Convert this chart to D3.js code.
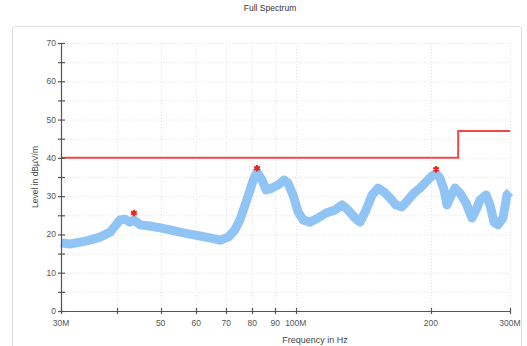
<!DOCTYPE html>
<html>
<head>
<meta charset="utf-8">
<script src="https://cdn.jsdelivr.net/npm/d3@7"></script>
<style>
  body { margin: 0; background: #fff; }
  text { font-family: "Liberation Sans", Arial, sans-serif; }
</style>
</head>
<body>
<script>
// spectrum trace, frequency in MHz and level in dBuV/m
const freqs = [30, 31.4, 33.1, 34.8, 36.6, 38.6, 39.6, 40.6, 41.6, 42.7, 43.6, 45.0, 47.3, 49.9, 52.5, 55.2, 58.1, 61.2, 64.4, 67.8,
  70.7, 73.2, 75.1, 77.1, 79.1, 80.7, 82.0, 84.1, 85.9, 88.5, 91.3, 94.2, 96.1, 98.6, 101.2, 103.8, 107.5, 112.1, 116.8, 122.3,
  126.8, 130.7, 135.5, 139.0, 143.4, 147.9, 152.5, 157.3, 162.2, 167.2, 172.4, 177.8, 183.4, 189.1, 195.0, 201.1, 205.3, 209.5,
  213.9, 217.2, 220.6, 226.3, 232.2, 239.4, 246.9, 252.1, 257.3, 265.3, 270.8, 276.4, 282.1, 289.4, 295.4, 300];
const levels = [17.8, 17.5, 18.0, 18.5, 19.3, 20.6, 22.2, 23.8, 24.0, 23.2, 23.8, 22.5, 22.2, 21.7, 21.2, 20.6, 20.1, 19.6, 19.1, 18.5,
  19.3, 21.2, 23.8, 27.7, 31.6, 34.7, 36.3, 34.2, 31.6, 32.1, 32.9, 34.2, 33.4, 30.3, 25.9, 23.8, 23.2, 24.3, 25.6, 26.4,
  27.7, 26.4, 24.3, 23.2, 26.4, 30.3, 32.1, 31.1, 29.5, 27.7, 27.2, 29.0, 30.8, 32.1, 33.7, 35.3, 35.8, 34.7,
  31.6, 27.7, 29.5, 32.1, 30.8, 28.2, 24.3, 26.4, 29.0, 30.3, 27.7, 23.2, 22.5, 24.3, 30.3, 31.1];

// limit line (step)
const limitFreqs = [30, 230, 230, 300];
const limitLevels = [40, 40, 47, 47];

// peak markers
const peakFreqs = [43.6, 82.0, 205.3];
const peakLevels = [25.6, 37.3, 37.0];

const xTicks = [30, 40, 50, 60, 70, 80, 90, 100, 200, 300];
const xTickLabels = ["30M", "", "50", "60", "70", "80", "90", "100M", "200", "300M"];
const yTicks = [0, 10, 20, 30, 40, 50, 60, 70];
const yMinorTicks = [5, 15, 25, 35, 45, 55, 65];

const W = 527, H = 346;
const mLeft = 61, mRight = 510, mTop = 43, mBottom = 311;

const svg = d3.select("body").append("svg")
  .attr("width", W)
  .attr("height", H);

// outer frame
svg.append("rect")
  .attr("x", 12.5).attr("y", 26.5)
  .attr("width", 509).attr("height", 340)
  .attr("rx", 3)
  .attr("fill", "none")
  .attr("stroke", "#dcdcdc")
  .attr("stroke-width", 1);

svg.append("text")
  .attr("x", 270).attr("y", 11)
  .attr("text-anchor", "middle")
  .attr("font-size", "8.5px")
  .attr("fill", "#333")
  .text("Full Spectrum");

const x = d3.scaleLog().domain([30, 300]).range([mLeft, mRight]);
const y = d3.scaleLinear().domain([0, 70]).range([mBottom, mTop]);

// grid
const grid = svg.append("g").attr("stroke", "#e2e2e2").attr("stroke-dasharray", "1,2");
grid.selectAll("line.h")
  .data(yTicks.concat(yMinorTicks).filter(d => d > 0))
  .enter().append("line")
  .attr("x1", mLeft).attr("x2", mRight)
  .attr("y1", d => y(d) + 0.5).attr("y2", d => y(d) + 0.5);
grid.selectAll("line.v")
  .data(xTicks.slice(1))
  .enter().append("line")
  .attr("x1", d => Math.round(x(d)) + 0.5).attr("x2", d => Math.round(x(d)) + 0.5)
  .attr("y1", mTop).attr("y2", mBottom);

// limit
const limitData = limitFreqs.map((f, i) => [f, limitLevels[i]]);
svg.append("path")
  .datum(limitData)
  .attr("fill", "none")
  .attr("stroke", "#f04848")
  .attr("stroke-width", 2)
  .attr("d", d3.line().x(d => x(d[0])).y(d => y(d[1])));

// trace
const traceData = freqs.map((f, i) => [f, levels[i]]);
svg.append("path")
  .datum(traceData)
  .attr("fill", "none")
  .attr("stroke", "#90c4f4")
  .attr("stroke-width", 9)
  .attr("stroke-linejoin", "round")
  .attr("stroke-linecap", "butt")
  .attr("d", d3.line().x(d => x(d[0])).y(d => y(d[1])));

// peak markers
const star = d3.symbol().type(d3.symbolAsterisk).size(30);
svg.selectAll("path.peak")
  .data(peakFreqs)
  .enter().append("path")
  .attr("class", "peak")
  .attr("transform", (d, i) => "translate(" + x(d) + "," + y(peakLevels[i]) + ")")
  .attr("d", star)
  .attr("fill", "none")
  .attr("stroke", "#ee2222")
  .attr("stroke-width", 2);

// axes
const yAxis = svg.append("g")
  .attr("transform", "translate(" + mLeft + ",0)");
yAxis.append("line")
  .attr("x1", 0.5).attr("x2", 0.5).attr("y1", mTop).attr("y2", mBottom)
  .attr("stroke", "#555").attr("stroke-width", 1.2);
yAxis.selectAll("line.tk")
  .data(yTicks.concat(yMinorTicks))
  .enter().append("line")
  .attr("x1", -3).attr("x2", 4)
  .attr("y1", d => y(d) + 0.5).attr("y2", d => y(d) + 0.5)
  .attr("stroke", "#555").attr("stroke-width", 1.2);
yAxis.selectAll("text")
  .data(yTicks)
  .enter().append("text")
  .attr("x", -5).attr("y", d => y(d) + 3)
  .attr("text-anchor", "end")
  .attr("font-size", "8.5px")
  .attr("fill", "#555")
  .text(d => d);

const xAxis = svg.append("g")
  .attr("transform", "translate(0," + mBottom + ")");
xAxis.append("line")
  .attr("x1", mLeft).attr("x2", mRight).attr("y1", 0.5).attr("y2", 0.5)
  .attr("stroke", "#555").attr("stroke-width", 1.2);
xAxis.selectAll("line.tk")
  .data(xTicks)
  .enter().append("line")
  .attr("x1", d => Math.round(x(d)) + 0.5).attr("x2", d => Math.round(x(d)) + 0.5)
  .attr("y1", -3).attr("y2", 3)
  .attr("stroke", "#555").attr("stroke-width", 1.2);
xAxis.selectAll("text")
  .data(xTicks)
  .enter().append("text")
  .attr("x", d => x(d)).attr("y", 15)
  .attr("text-anchor", "middle")
  .attr("font-size", "8.5px")
  .attr("fill", "#555")
  .text((d, i) => xTickLabels[i]);

svg.append("text")
  .attr("transform", "translate(38,177) rotate(-90)")
  .attr("text-anchor", "middle")
  .attr("font-size", "8.5px")
  .attr("fill", "#444")
  .text("Level in dBµV/m");

svg.append("text")
  .attr("x", 315).attr("y", 343)
  .attr("text-anchor", "middle")
  .attr("font-size", "9px")
  .attr("fill", "#444")
  .text("Frequency in Hz");
</script>
</body>
</html>
